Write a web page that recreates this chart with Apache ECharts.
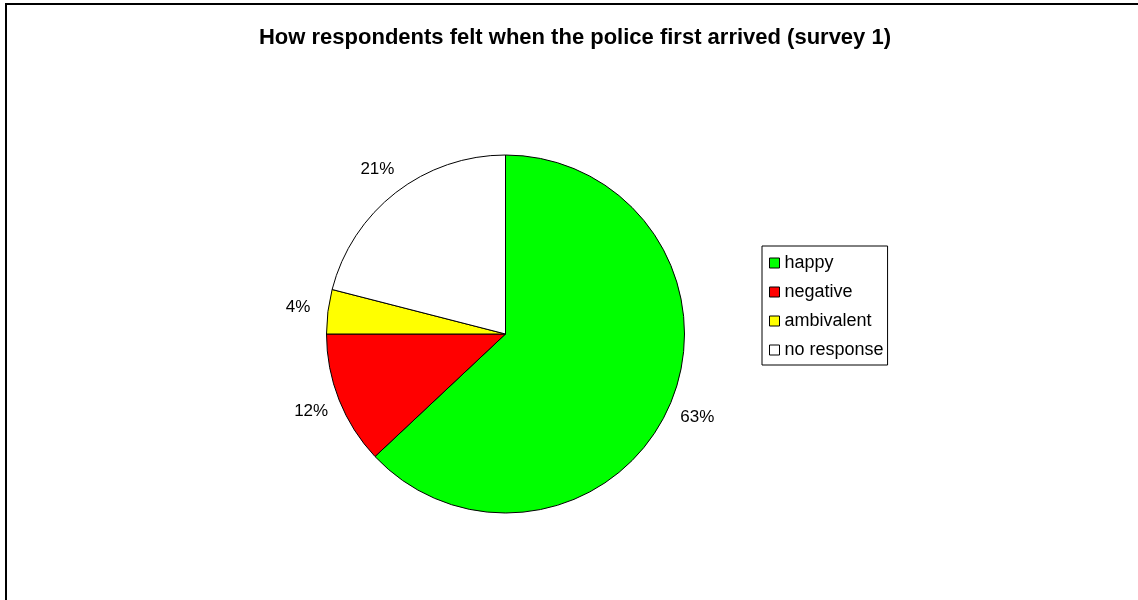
<!DOCTYPE html>
<html>
<head>
<meta charset="utf-8">
<script src="https://cdn.jsdelivr.net/npm/echarts@6/dist/echarts.min.js"></script>
<style>
html,body{margin:0;padding:0;background:#fff;}
#chart{width:1138px;height:600px;}
</style>
</head>
<body>
<div id="chart"></div>
<script>
const titleText = 'How respondents felt when the police first arrived (survey 1)';
const categories = ['happy', 'negative', 'ambivalent', 'no response'];
const values = [63, 12, 4, 21];
const colors = ['#00FF00', '#FF0000', '#FFFF00', '#FFFFFF'];

const FONT = '"Liberation Sans", Arial, sans-serif';
const chart = echarts.init(document.getElementById('chart'), null, {renderer: 'canvas'});

const pieData = categories.map((c, i) => ({
  name: c, value: values[i], itemStyle: {color: colors[i]}
}));
const labelData = categories.map((c, i) => ({name: c, value: values[i]}));
const total = values.reduce((a, b) => a + b, 0);

chart.setOption({
  animation: false,
  backgroundColor: '#ffffff',
  title: {
    text: titleText,
    left: 570,
    textAlign: 'center',
    top: 22,
    textStyle: {fontFamily: FONT, fontWeight: 'bold', fontSize: 22, color: '#000'}
  },
  legend: {
    orient: 'vertical',
    left: 762,
    top: 246,
    data: categories,
    icon: 'rect',
    itemWidth: 10,
    itemHeight: 10,
    itemGap: 9,
    padding: [7, 4, 5, 7],
    borderColor: '#000',
    borderWidth: 1,
    selectedMode: false,
    itemStyle: {borderColor: '#000', borderWidth: 1},
    textStyle: {fontFamily: FONT, fontSize: 18, color: '#000', lineHeight: 20, padding: [0, 0, 0, 0]}
  },
  graphic: [{
    type: 'rect',
    shape: {x: 6, y: 4, width: 1300, height: 800},
    style: {fill: 'none', stroke: '#000', lineWidth: 2},
    silent: true,
    z: 100
  }],
  series: [
    {
      type: 'pie',
      center: [505.5, 334],
      radius: [0, 179],
      startAngle: 90,
      clockwise: true,
      avoidLabelOverlap: false,
      silent: true,
      data: pieData,
      itemStyle: {borderColor: '#000', borderWidth: 1},
      label: {show: false},
      labelLine: {show: false},
      emphasis: {disabled: true}
    },
    {
      type: 'pie',
      center: [505.5, 334],
      radius: [180, 232],
      startAngle: 90,
      clockwise: true,
      avoidLabelOverlap: false,
      silent: true,
      data: labelData,
      itemStyle: {color: 'rgba(0,0,0,0)', borderWidth: 0},
      label: {
        show: true,
        position: 'inside',
        formatter: p => Math.round(p.value / total * 100) + '%',
        fontFamily: FONT,
        fontSize: 17,
        color: '#000'
      },
      labelLine: {show: false},
      emphasis: {disabled: true}
    }
  ]
});
</script>
</body>
</html>
